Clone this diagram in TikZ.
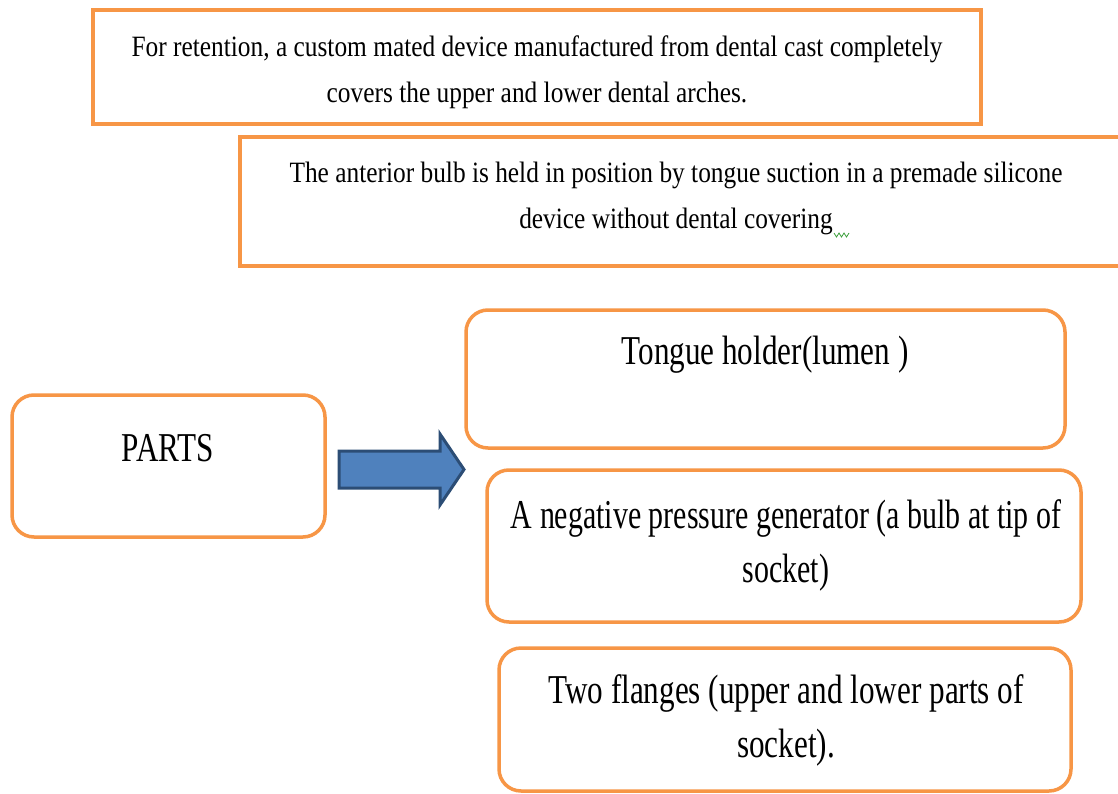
\documentclass[tikz,border=0pt]{standalone}
\usepackage{fontspec}
\setmainfont{Liberation Serif}
\newfontfamily\topfont{Liberation Serif}[FakeStretch=0.86]
\newfontfamily\bigfont{Liberation Serif}[FakeStretch=0.76]
\newfontfamily\negfont{Liberation Serif}[FakeStretch=0.73]
\definecolor{borange}{HTML}{F79646}
\definecolor{ablue}{HTML}{4F81BD}
\definecolor{ablueline}{HTML}{2C4D75}
\definecolor{spellgreen}{HTML}{3CA03C}
\begin{document}
\begin{tikzpicture}[x=1pt,y=-1pt,
  sqbox/.style={draw=borange, line width=3.5pt, fill=white, inner sep=0pt},
  rbox/.style={draw=borange, line width=3.5pt, fill=white, rounded corners=22pt, inner sep=0pt},
  toptxt/.style={font=\topfont\fontsize{29.5}{46}\selectfont, align=center, inner sep=0pt},
  bigtxt/.style={font=\bigfont\fontsize{41}{54}\selectfont, align=center, inner sep=0pt},
  negtxt/.style={font=\negfont\fontsize{41}{54}\selectfont, align=center, inner sep=0pt},
  blockarrow/.style={fill=ablue, draw=ablueline, line width=3pt, line join=miter}
]
\useasboundingbox (0,0) rectangle (1118,794);
\fill[white] (0,0) rectangle (1118,794);

% top boxes
\node[sqbox, minimum width=888pt, minimum height=114pt] (b1) at (537,67) {};
\node[toptxt] (b1t) at (537,72) {For retention, a custom mated device manufactured\ from dental cast completely\\covers the upper and\ lower dental arches.};

\node[sqbox, minimum width=884pt, minimum height=129pt] (b2) at (682,201.5) {};
\node[toptxt] (b2t) at (676,198) {The anterior bulb is held in position by tongue suction in a premade silicone\\device without dental\ covering};
\draw[spellgreen, line width=0.8pt] (834,233) -- (836.5,237) -- (839,233) -- (841.5,237) -- (844,233) -- (846.5,237) -- (849,233);

% parts
\node[rbox, minimum width=313pt, minimum height=142pt] (parts) at (168.5,466) {};
\node[bigtxt] (partst) at (168,448) {PARTS};

% right boxes
\node[rbox, minimum width=599pt, minimum height=138pt] (tongue) at (765.5,379) {};
\node[bigtxt] (tonguet) at (765,355) {Tongue holder(lumen )};

\node[rbox, minimum width=594pt, minimum height=152pt] (neg) at (784,546) {};
\node[negtxt] (negt) at (786,545) {A negative pressure generator (a bulb at tip of\\socket)};

\node[rbox, minimum width=572pt, minimum height=143pt] (fl) at (785,719.5) {};
\node[bigtxt] (flt) at (786,720) {Two flanges (upper and lower parts of\\socket).};

% block arrow
\coordinate (a0) at (339,451);
\draw[blockarrow] (a0) -- (440,451) -- (440,434) -- (464,469.5) -- (440,505) -- (440,488) -- (339,488) -- cycle;
\end{tikzpicture}
\end{document}
